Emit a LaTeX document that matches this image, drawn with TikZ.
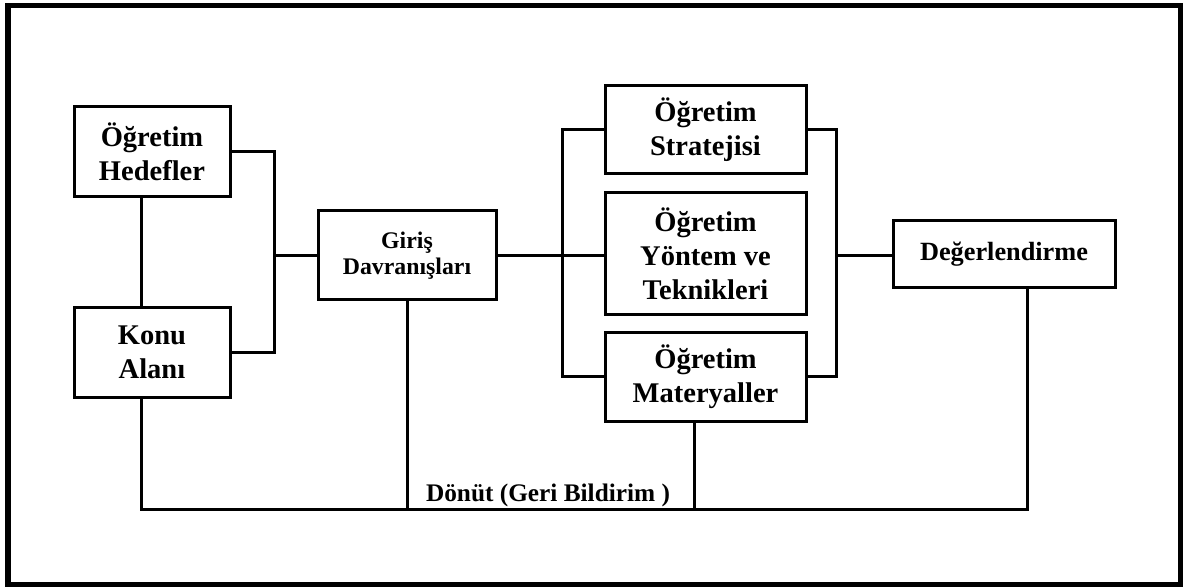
\documentclass[tikz,border=0pt]{standalone}
\usepackage{fontspec}
\setmainfont{Liberation Serif}
\begin{document}
\begin{tikzpicture}[x=0.5pt,y=-0.5pt,
  box/.style={draw, line width=1.5pt, inner sep=0pt, align=center,
    font=\bfseries\fontsize{14.25}{17}\selectfont},
  conn/.style={line width=1.5pt},
  frame/.style={line width=2.75pt}]
\useasboundingbox (0,0) rectangle (1194,588);
\draw[frame] (8,5.5) rectangle (1180.5,584.5);
% boxes
\node[box, minimum width=78pt, minimum height=45pt] (hed) at (152,152) {Öğretim\\Hedefler};
\node[box, minimum width=78pt, minimum height=44.5pt] (konu) at (152,352.5) {Konu\\Alanı};
\node[box, minimum width=89pt, minimum height=44.5pt, font=\bfseries\fontsize{11.9}{13.3}\selectfont] (giris) at (407,255.5) {Giriş\\Davranışları};
\node[box, minimum width=100.5pt, minimum height=44pt] (strat) at (705.5,130) {Öğretim\\Stratejisi};
\node[box, minimum width=100.5pt, minimum height=61pt] (yontem) at (705.5,254) {Öğretim\\Yöntem ve\\Teknikleri};
\node[box, minimum width=100.5pt, minimum height=44.5pt] (mat) at (705.5,376.5) {Öğretim\\Materyaller};
\node[box, minimum width=111pt, minimum height=33.5pt, font=\bfseries\fontsize{13.15}{15}\selectfont] (deg) at (1004,254.5) {Değerlendirme};
% junctions
\coordinate (j1) at (274,256);
\coordinate (j2) at (562,256);
\coordinate (j3) at (836,256);
\coordinate (f1) at (141,509);
\coordinate (f3) at (694,509);
\coordinate (f4) at (1027,509);
% connectors
\draw[conn] (hed.south -| f1) -- (konu.north -| f1);
\draw[conn] (hed.east) -| (j1) |- (konu.east);
\draw[conn] (j1) -- (j1 -| giris.west);
\draw[conn] (j2 -| giris.east) -- (j2 -| yontem.west);
\draw[conn] (strat.west) -| (j2) |- (mat.west);
\draw[conn] (strat.east) -| (j3) |- (mat.east);
\draw[conn] (j3) -- (j3 -| deg.west);
\draw[conn] (konu.south -| f1) -- (f1) -- (f4) -- (deg.south -| f4);
\draw[conn] (giris.south) -- (giris.south |- f1);
\draw[conn] (mat.south -| f3) -- (f3);
\node[anchor=base, inner sep=0pt, font=\bfseries\fontsize{12.65}{14}\selectfont] (fb) at (548,501) {Dönüt (Geri Bildirim )};
\end{tikzpicture}
\end{document}
